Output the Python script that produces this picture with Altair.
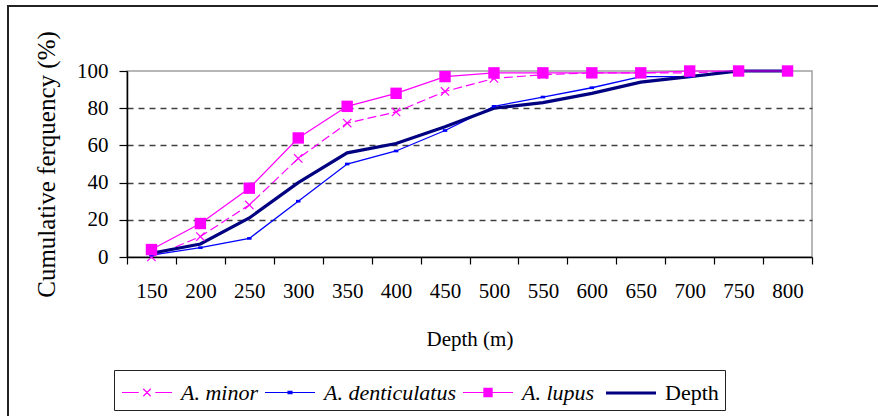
import altair as alt
import pandas as pd

# ---- data ----
depth = [150, 200, 250, 300, 350, 400, 450, 500, 550, 600, 650, 700, 750, 800]
a_minor = [0, 11, 28, 53, 72, 78, 89, 96, 98, 99, 99, 99, 100, 100]
a_denticulatus = [1, 5, 10, 30, 50, 57, 68, 81, 86, 91, 97, 97, 100, 100]
a_lupus = [4, 18, 37, 64, 81, 88, 97, 99, 99, 99, 99, 100, 100, 100]
depth_total = [2, 7, 21, 40, 56, 61, 70, 80, 83, 88, 94, 97, 100, 100]

series_names = ["A. minor", "A. denticulatus", "A. lupus", "Depth"]
series_values = [a_minor, a_denticulatus, a_lupus, depth_total]

rows = []
for name, vals in zip(series_names, series_values):
    for d, v in zip(depth, vals):
        rows.append({"depth": d, "series": name, "value": v})
df = pd.DataFrame(rows)

# ---- styles ----
FONT = "Liberation Serif, Times New Roman, serif"
PINK = "#ff00ff"
BLUE = "#0000ff"
NAVY = "#000080"
colors = [PINK, BLUE, PINK, NAVY]
fills = ["transparent", BLUE, PINK, "transparent"]
widths = [1.2, 1.2, 1.2, 3.2]
# legend symbols: a 30px symbol box, path drawn 50px wide
legend_paths = [
    "M-1.667,0H-0.55M0.55,0H1.667M-0.25,-0.25L0.25,0.25M-0.25,0.25L0.25,-0.25",
    "M-1.667,0H1.667M-0.13,-0.08H0.13V0.08H-0.13Z",
    "M-1.667,0H-0.27M0.27,0H1.667M-0.27,-0.27H0.27V0.27H-0.27Z",
    "M-1.667,0H1.667",
]

step = depth[1] - depth[0]
x_min = depth[0] - step // 2
x_max = depth[-1] + step // 2
x_ticks = list(range(x_min, x_max + 1, step // 2))

x_enc = alt.X(
    "depth:Q",
    scale=alt.Scale(domain=[x_min, x_max], nice=False, zero=False),
    axis=alt.Axis(
        values=x_ticks,
        format="d",
        labelExpr=f"(datum.value - {x_min}) % {step} == 0 ? '' : datum.label",
        labelOverlap=False,
        labelFlush=False,
        labelFont=FONT,
        labelFontSize=21,
        labelColor="black",
        labelPadding=16,
        tickSize=7,
        tickColor="black",
        tickWidth=1.2,
        tickOpacity={"condition": {"test": f"(datum.value - {x_min}) % {step} == 0", "value": 1}, "value": 0},
        domainColor="black",
        domainWidth=1.5,
        grid=False,
        title="Depth (m)",
        titleFont=FONT,
        titleFontSize=21,
        titleFontWeight="normal",
        titleColor="black",
        titlePadding=27,
    ),
)

y_enc = alt.Y(
    "value:Q",
    scale=alt.Scale(domain=[0, 100], nice=False),
    axis=alt.Axis(
        values=[0, 20, 40, 60, 80, 100],
        labelFont=FONT,
        labelFontSize=21,
        labelColor="black",
        labelPadding=11,
        tickSize=8,
        tickColor="black",
        tickWidth=1.2,
        domainColor="black",
        domainWidth=1.5,
        grid=True,
        gridColor="#404040",
        gridDash=[6, 5],
        gridWidth=1.6,
        gridOpacity={"condition": {"test": "datum.value == 0 || datum.value == 100", "value": 0}, "value": 1},
        title="Cumulative ferquency (%)",
        titleFont=FONT,
        titleFontSize=25,
        titleFontWeight="normal",
        titleColor="black",
        titlePadding=17,
    ),
)

base = alt.Chart(df)

def only(name):
    return base.transform_filter(alt.datum.series == name)

line_minor = only("A. minor").mark_line(color=PINK, strokeWidth=1.2, strokeDash=[9, 4]).encode(x=x_enc, y=y_enc)
line_dent = only("A. denticulatus").mark_line(color=BLUE, strokeWidth=1.3).encode(x=x_enc, y=y_enc)
line_depth = only("Depth").mark_line(color=NAVY, strokeWidth=3.2).encode(x=x_enc, y=y_enc)
line_lupus = only("A. lupus").mark_line(color=PINK, strokeWidth=1.2).encode(x=x_enc, y=y_enc)

pts_minor = only("A. minor").mark_point(
    shape="M-1,-1L1,1M-1,1L1,-1", size=70, color=PINK, strokeWidth=1.2, opacity=1, filled=False
).encode(x=x_enc, y=y_enc)
pts_dent = only("A. denticulatus").mark_point(
    shape="M-1,-0.6H1V0.6H-1Z", size=20, color=BLUE, opacity=1, filled=True
).encode(x=x_enc, y=y_enc)
pts_lupus = only("A. lupus").mark_square(size=130, color=PINK, opacity=1, filled=True).encode(x=x_enc, y=y_enc)

leg = alt.Legend(
    title=None,
    orient="none",
    legendX=-13,
    legendY=299,
    direction="horizontal",
    columns=4,
    symbolSize=900,
    symbolOffset=10,
    labelFont=FONT,
    labelFontSize=22,
    labelColor="black",
    labelFontStyle=alt.ExprRef(expr="datum.label == 'Depth' ? 'normal' : 'italic'"),
    labelOffset=17,
    columnPadding=4,
    padding=6,
    strokeColor="#222222",
)

legend_layer = base.transform_filter("false").mark_point(opacity=1).encode(
    shape=alt.Shape("series:N", scale=alt.Scale(domain=series_names, range=legend_paths), legend=leg),
    stroke=alt.Stroke("series:N", scale=alt.Scale(domain=series_names, range=colors), legend=leg),
    fill=alt.Fill("series:N", scale=alt.Scale(domain=series_names, range=fills), legend=leg),
    strokeWidth=alt.StrokeWidth(
        "series:N", scale=alt.Scale(type="ordinal", domain=series_names, range=widths), legend=leg
    ),
)

frame = alt.Chart(pd.DataFrame({"k": [0]})).mark_rect(
    fillOpacity=0, stroke="#222222", strokeWidth=2
).encode(x=alt.value(-119), x2=alt.value(800), y=alt.value(-65), y2=alt.value(400))

chart = alt.layer(
    frame,
    line_minor, line_dent, line_depth, line_lupus,
    pts_minor, pts_dent, pts_lupus,
    legend_layer,
).properties(
    width=685,
    height=186,
    autosize=alt.AutoSizeParams(type="none"),
    padding={"left": 127, "top": 71, "right": 66, "bottom": 159},
    background="white",
).configure_view(
    stroke="#a0a0a0", strokeWidth=1.5
)

chart.save("out.html", embed_options={"renderer": "svg", "actions": False})
